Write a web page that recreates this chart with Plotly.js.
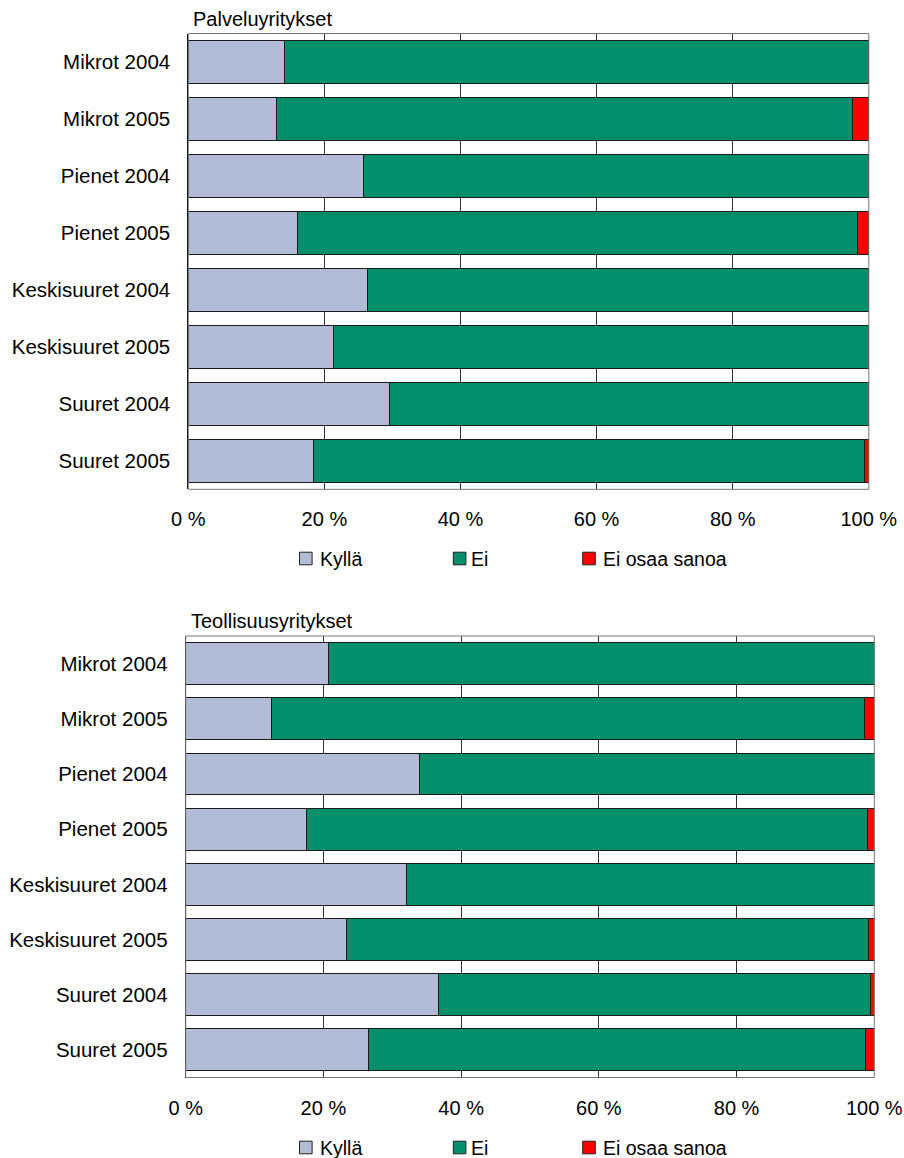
<!DOCTYPE html>
<html><head><meta charset="utf-8">
<script src="https://cdn.plot.ly/plotly-3.0.1.min.js"></script>
<style>html,body{margin:0;padding:0;background:#fff}</style>
</head><body><div id="chart" style="width:904px;height:1158px"></div>
<script>
// ---- data ----
const categories = ["Mikrot 2004","Mikrot 2005","Pienet 2004","Pienet 2005","Keskisuuret 2004","Keskisuuret 2005","Suuret 2004","Suuret 2005"];
const seriesNames = ["Kyllä","Ei","Ei osaa sanoa"];
const panelTitles = ["Palveluyritykset","Teollisuusyritykset"];

const palveluKylla = [14.1, 12.9, 25.7, 16.1, 26.4, 21.4, 29.6, 18.4];
const palveluEi    = [85.9, 84.7, 74.3, 82.3, 73.6, 78.6, 70.4, 80.9];
const palveluEos   = [0,    2.4,  0,    1.6,  0,    0,    0,    0.7];

const teollKylla = [20.8, 12.4, 34.0, 17.5, 32.0, 23.4, 36.7, 26.6];
const teollEi    = [79.2, 86.2, 66.0, 81.5, 68.0, 75.8, 62.7, 72.1];
const teollEos   = [0,    1.4,  0,    1.0,  0,    0.8,  0.6,  1.3];

const tickValues = [0, 20, 40, 60, 80, 100];
const tickLabels = ["0 %", "20 %", "40 %", "60 %", "80 %", "100 %"];

// ---- style ----
const colors = ["#B3BCD6", "#028F69", "#FF0000"];
const W = 904, H = 1158;
const FONT = "Liberation Sans, Arial, Helvetica, sans-serif";
const FS_CAT = 20.5, FS_TICK = 20, FS_TITLE = 20, FS_LEG = 19.5;
const px = v => v / W;
const py = v => 1 - v / H;

function makeTraces(vals, xa, ya) {
  return vals.map((v, i) => ({
    type: 'bar', orientation: 'h', y: categories, x: v, name: seriesNames[i],
    xaxis: xa, yaxis: ya,
    marker: {color: colors[i], line: {color: '#1a1a1a', width: 1}},
    showlegend: false, hovertemplate: '%{y}: %{x} %<extra>' + seriesNames[i] + '</extra>'
  }));
}

const data = [
  ...makeTraces([palveluKylla, palveluEi, palveluEos], 'x', 'y'),
  ...makeTraces([teollKylla, teollEi, teollEos], 'x2', 'y2')
];

function xAxis(domain, anchor) {
  return {
    domain: domain, anchor: anchor, range: [0, 100], tickmode: 'array',
    tickvals: tickValues, ticktext: tickLabels,
    showgrid: true, gridcolor: '#333', gridwidth: 1, zeroline: false,
    showline: false, ticks: '', ticklabelstandoff: 16, fixedrange: true,
    tickfont: {family: FONT, size: FS_TICK, color: '#000'}
  };
}
function yAxis(domain, anchor) {
  return {
    domain: domain, anchor: anchor, type: 'category', categoryorder: 'array',
    categoryarray: categories, autorange: 'reversed',
    showline: true, linecolor: '#000', linewidth: 1, ticks: '', showgrid: false,
    ticklabelstandoff: 13, fixedrange: true,
    tickfont: {family: FONT, size: FS_CAT, color: '#000'}
  };
}

const panels = [
  {xd: [188.3, 868.8], yd: [33.5, 489.3], xa: 'x', ya: 'y', legY: 558.5},
  {xd: [185.7, 874.3], yd: [636, 1077.5], xa: 'x2', ya: 'y2', legY: 1147.5}
];

const shapes = [];
const annotations = [];
const legendX = [{sq: 299.5, tx: 317.5}, {sq: 453.3, tx: 469}, {sq: 582.7, tx: 600.5}];
const SQ = 12.6;

panels.forEach((p, k) => {
  // plot frame
  shapes.push({type: 'rect', xref: p.xa + ' domain', yref: p.ya + ' domain',
    x0: 0, x1: 1, y0: 0, y1: 1, line: {color: '#777', width: 1}, layer: 'above'});
  // panel title
  annotations.push({text: panelTitles[k], xref: 'paper', yref: 'paper',
    x: px(p.xd[0] + 3), y: py(p.yd[0] - 15), xanchor: 'left', yanchor: 'middle',
    showarrow: false, font: {family: FONT, size: FS_TITLE, color: '#000'}});
  // legend
  seriesNames.forEach((n, i) => {
    const L = legendX[i];
    shapes.push({type: 'rect', xref: 'paper', yref: 'paper',
      x0: px(L.sq), x1: px(L.sq + SQ), y0: py(p.legY + SQ / 2), y1: py(p.legY - SQ / 2),
      fillcolor: colors[i], line: {color: '#222', width: 1}});
    annotations.push({text: n, xref: 'paper', yref: 'paper', x: px(L.tx), y: py(p.legY),
      xanchor: 'left', yanchor: 'middle', showarrow: false,
      font: {family: FONT, size: FS_LEG, color: '#000'}});
  });
});

const layout = {
  width: W, height: H, margin: {l: 0, r: 0, t: 0, b: 0},
  paper_bgcolor: '#fff', plot_bgcolor: '#fff',
  barmode: 'stack', bargap: 0.24,
  font: {family: FONT, size: FS_TICK, color: '#000'},
  showlegend: false,
  xaxis:  xAxis([px(panels[0].xd[0]), px(panels[0].xd[1])], 'y'),
  yaxis:  yAxis([py(panels[0].yd[1]), py(panels[0].yd[0])], 'x'),
  xaxis2: xAxis([px(panels[1].xd[0]), px(panels[1].xd[1])], 'y2'),
  yaxis2: yAxis([py(panels[1].yd[1]), py(panels[1].yd[0])], 'x2'),
  shapes: shapes, annotations: annotations
};

Plotly.newPlot('chart', data, layout, {displayModeBar: false});
</script>
</body></html>
